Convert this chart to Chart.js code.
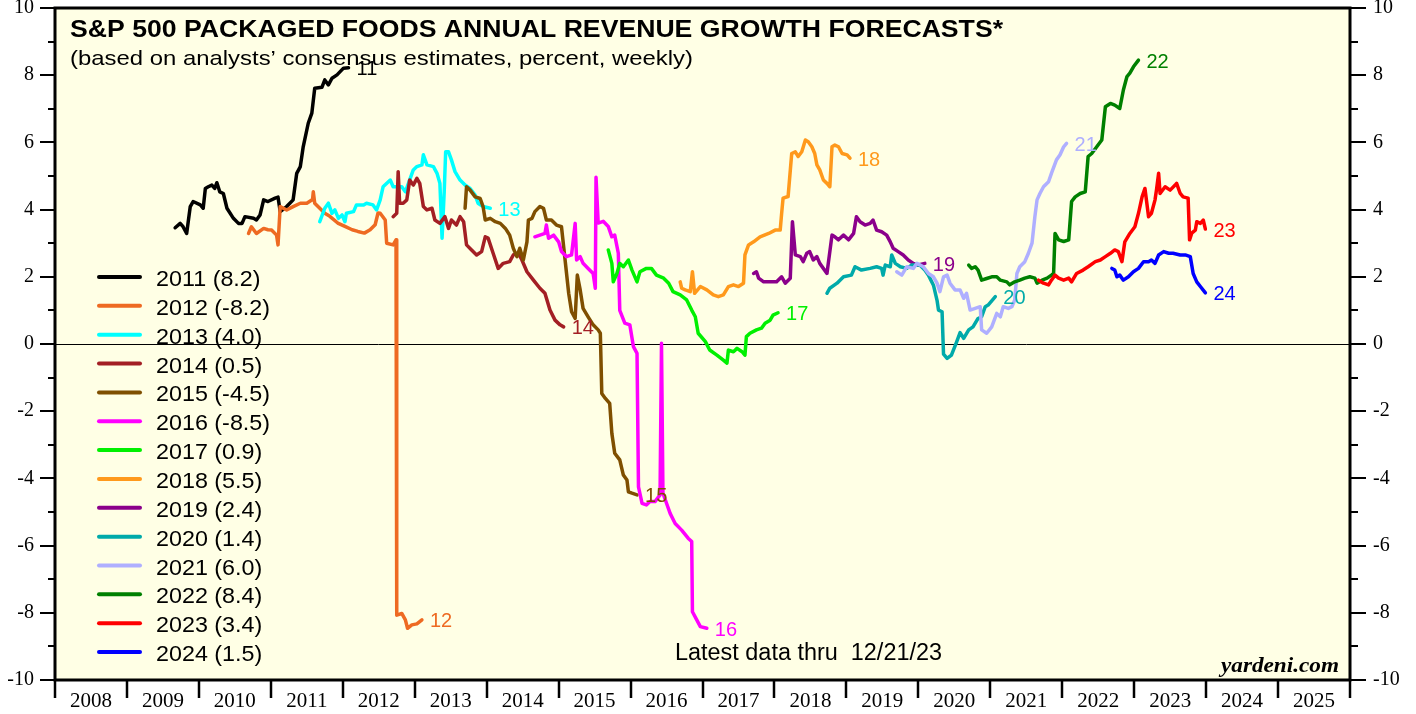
<!DOCTYPE html>
<html><head><meta charset="utf-8">
<script src="https://cdn.jsdelivr.net/npm/chart.js@4.4.1/dist/chart.umd.min.js"></script>
<style>html,body{margin:0;padding:0;background:#fff}#wrap{width:1416px;height:714px;position:relative}</style>
</head><body><div id="wrap"><canvas id="c" width="1416" height="714"></canvas></div>
<script>
// ---------- DATA ----------
const seriesYears = [2011,2012,2013,2014,2015,2016,2017,2018,2019,2020,2021,2022,2023,2024];
const legendValues = ['8.2','-8.2','4.0','0.5','-4.5','-8.5','0.9','5.5','2.4','1.4','6.0','8.4','3.4','1.5'];
const endLabels = ['11','12','13','14','15','16','17','18','19','20','21','22','23','24'];
const xYearLabels = [2008,2009,2010,2011,2012,2013,2014,2015,2016,2017,2018,2019,2020,2021,2022,2023,2024,2025];
const yTickValues = [-10,-9,-8,-7,-6,-5,-4,-3,-2,-1,0,1,2,3,4,5,6,7,8,9,10];

const s2011 = [[2009.67,3.46],[2009.74,3.59],[2009.78,3.49],[2009.83,3.29],[2009.88,4.09],[2009.92,4.24],[2010.02,4.14],[2010.06,4.04],[2010.09,4.63],[2010.13,4.68],[2010.18,4.73],[2010.22,4.63],[2010.25,4.80],[2010.29,4.53],[2010.34,4.48],[2010.39,4.04],[2010.48,3.74],[2010.55,3.59],[2010.60,3.59],[2010.64,3.79],[2010.76,3.74],[2010.80,3.69],[2010.85,3.84],[2010.90,4.29],[2010.96,4.24],[2011.06,4.34],[2011.10,4.37],[2011.13,3.94],[2011.22,4.09],[2011.31,4.29],[2011.36,5.08],[2011.41,5.28],[2011.45,5.87],[2011.52,6.57],[2011.57,6.87],[2011.61,7.61],[2011.71,7.64],[2011.75,7.86],[2011.80,7.71],[2011.85,7.91],[2011.92,8.01],[2012.01,8.21],[2012.08,8.22]];
const s2012 = [[2010.69,3.29],[2010.73,3.49],[2010.80,3.29],[2010.90,3.44],[2010.96,3.40],[2011.01,3.39],[2011.08,3.24],[2011.10,2.95],[2011.13,4.09],[2011.22,3.99],[2011.31,4.09],[2011.41,4.19],[2011.50,4.19],[2011.58,4.30],[2011.59,4.53],[2011.61,4.19],[2011.68,4.04],[2011.75,3.89],[2011.82,3.80],[2011.93,3.60],[2012.03,3.50],[2012.13,3.40],[2012.21,3.35],[2012.30,3.30],[2012.38,3.40],[2012.45,3.55],[2012.49,3.90],[2012.52,3.89],[2012.59,3.69],[2012.61,3.00],[2012.70,2.95],[2012.74,3.10],[2012.75,-8.07],[2012.82,-8.02],[2012.87,-8.21],[2012.90,-8.46],[2012.96,-8.36],[2013.03,-8.33],[2013.10,-8.21]];
const s2013 = [[2011.68,3.64],[2011.75,4.04],[2011.80,4.19],[2011.85,3.89],[2011.89,3.99],[2011.94,3.74],[2011.99,3.84],[2012.03,3.64],[2012.05,3.89],[2012.15,3.94],[2012.19,4.14],[2012.29,4.14],[2012.33,4.19],[2012.42,4.14],[2012.47,3.99],[2012.52,4.29],[2012.56,4.68],[2012.66,4.88],[2012.70,4.68],[2012.75,4.68],[2012.82,4.68],[2012.87,4.53],[2012.98,5.18],[2013.03,5.28],[2013.10,5.33],[2013.12,5.63],[2013.17,5.33],[2013.26,5.28],[2013.31,5.08],[2013.35,4.78],[2013.38,3.15],[2013.41,4.53],[2013.43,5.72],[2013.47,5.72],[2013.51,5.48],[2013.56,5.13],[2013.63,4.88],[2013.70,4.73],[2013.77,4.63],[2013.84,4.43],[2013.88,4.19],[2013.95,4.09],[2014.05,4.04]];
const s2014 = [[2012.70,3.79],[2012.75,3.89],[2012.77,5.13],[2012.79,4.19],[2012.84,4.19],[2012.89,4.29],[2012.93,4.88],[2012.98,4.73],[2013.03,4.93],[2013.07,4.78],[2013.12,4.09],[2013.17,3.99],[2013.24,4.04],[2013.28,3.69],[2013.35,3.59],[2013.42,3.79],[2013.47,3.44],[2013.51,3.69],[2013.58,3.54],[2013.63,3.79],[2013.68,3.64],[2013.72,2.95],[2013.79,2.80],[2013.86,2.65],[2013.93,2.75],[2013.98,3.19],[2014.02,3.15],[2014.09,2.70],[2014.16,2.25],[2014.23,2.40],[2014.32,2.45],[2014.37,2.65],[2014.44,2.70],[2014.49,2.50],[2014.56,2.15],[2014.65,1.90],[2014.74,1.66],[2014.81,1.51],[2014.88,1.01],[2014.95,0.71],[2015.02,0.57],[2015.07,0.51]];
const s2015 = [[2013.70,4.04],[2013.72,4.68],[2013.77,4.58],[2013.84,4.38],[2013.91,4.33],[2013.95,4.09],[2013.98,3.69],[2014.05,3.74],[2014.12,3.64],[2014.19,3.59],[2014.26,3.44],[2014.32,3.24],[2014.37,2.85],[2014.42,2.60],[2014.46,2.85],[2014.51,2.50],[2014.56,3.04],[2014.58,3.69],[2014.63,3.74],[2014.67,3.94],[2014.74,4.09],[2014.79,4.04],[2014.83,3.69],[2014.90,3.69],[2014.97,3.54],[2015.04,3.49],[2015.09,2.50],[2015.14,1.51],[2015.18,0.96],[2015.23,0.76],[2015.26,2.05],[2015.30,1.61],[2015.34,1.06],[2015.41,0.81],[2015.48,0.57],[2015.55,0.42],[2015.58,0.32],[2015.60,-1.47],[2015.65,-1.62],[2015.71,-1.77],[2015.74,-2.66],[2015.78,-3.25],[2015.85,-3.45],[2015.90,-3.90],[2015.95,-4.05],[2015.97,-4.40],[2016.02,-4.44],[2016.09,-4.49]];
const s2016 = [[2014.67,3.19],[2014.74,3.24],[2014.81,3.29],[2014.83,3.54],[2014.86,3.15],[2014.93,3.24],[2015.00,3.04],[2015.04,2.75],[2015.11,2.60],[2015.18,2.65],[2015.23,3.59],[2015.25,2.50],[2015.30,2.60],[2015.34,2.40],[2015.41,2.25],[2015.48,2.10],[2015.51,1.66],[2015.52,4.96],[2015.55,3.60],[2015.62,3.65],[2015.69,3.50],[2015.74,3.19],[2015.78,3.24],[2015.83,2.70],[2015.85,1.00],[2015.92,0.62],[2015.99,0.57],[2016.04,-0.08],[2016.09,-0.28],[2016.11,-4.25],[2016.16,-4.74],[2016.22,-4.79],[2016.27,-4.69],[2016.34,-4.69],[2016.41,-4.49],[2016.43,0.02],[2016.45,-4.44],[2016.50,-4.74],[2016.55,-5.04],[2016.62,-5.34],[2016.71,-5.54],[2016.80,-5.78],[2016.85,-5.88],[2016.86,-7.97],[2016.92,-8.21],[2016.97,-8.41],[2017.06,-8.46]];
const s2017 = [[2015.69,2.80],[2015.74,2.40],[2015.76,1.85],[2015.81,2.10],[2015.85,2.40],[2015.90,2.30],[2015.97,2.50],[2016.02,2.20],[2016.09,1.85],[2016.13,2.15],[2016.22,2.25],[2016.29,2.25],[2016.36,2.05],[2016.46,1.96],[2016.53,1.81],[2016.59,1.56],[2016.69,1.46],[2016.78,1.31],[2016.85,1.01],[2016.90,0.81],[2016.94,0.32],[2017.04,0.07],[2017.10,-0.18],[2017.20,-0.33],[2017.29,-0.48],[2017.34,-0.57],[2017.36,-0.18],[2017.43,-0.23],[2017.48,-0.13],[2017.55,-0.23],[2017.59,-0.33],[2017.61,0.22],[2017.66,0.32],[2017.75,0.42],[2017.82,0.47],[2017.87,0.62],[2017.94,0.71],[2017.98,0.86],[2018.05,0.93]];
const s2018 = [[2016.69,1.85],[2016.71,1.66],[2016.76,1.61],[2016.83,1.56],[2016.86,2.15],[2016.89,1.51],[2016.97,1.71],[2017.06,1.61],[2017.15,1.46],[2017.22,1.41],[2017.29,1.46],[2017.36,1.71],[2017.43,1.76],[2017.50,1.71],[2017.57,1.81],[2017.59,2.65],[2017.64,2.95],[2017.71,3.04],[2017.80,3.19],[2017.92,3.29],[2018.01,3.39],[2018.08,3.39],[2018.10,3.89],[2018.12,4.34],[2018.19,4.39],[2018.24,5.67],[2018.29,5.72],[2018.33,5.58],[2018.38,5.72],[2018.43,6.07],[2018.47,6.02],[2018.52,5.87],[2018.56,5.67],[2018.59,5.33],[2018.63,5.18],[2018.68,4.88],[2018.73,4.78],[2018.77,4.68],[2018.80,5.87],[2018.84,5.92],[2018.89,5.87],[2018.94,5.67],[2019.01,5.63],[2019.05,5.53]];
const s2019 = [[2017.71,2.10],[2017.75,2.15],[2017.78,1.96],[2017.85,1.85],[2017.94,1.85],[2018.03,1.85],[2018.10,2.00],[2018.15,1.81],[2018.22,1.96],[2018.25,3.64],[2018.29,2.65],[2018.36,2.60],[2018.40,2.45],[2018.45,2.70],[2018.49,2.75],[2018.54,2.50],[2018.59,2.60],[2018.63,2.40],[2018.73,2.10],[2018.80,3.24],[2018.84,3.19],[2018.89,3.10],[2018.96,3.24],[2019.03,3.10],[2019.10,3.29],[2019.14,3.79],[2019.19,3.64],[2019.26,3.54],[2019.33,3.59],[2019.37,3.69],[2019.42,3.39],[2019.49,3.34],[2019.56,3.24],[2019.61,3.04],[2019.65,2.85],[2019.72,2.75],[2019.79,2.65],[2019.86,2.50],[2019.93,2.40],[2020.00,2.35],[2020.09,2.40]];
const s2020 = [[2018.73,1.51],[2018.77,1.66],[2018.87,1.81],[2018.96,2.00],[2019.07,2.05],[2019.12,2.30],[2019.21,2.20],[2019.33,2.25],[2019.42,2.30],[2019.49,2.25],[2019.51,2.05],[2019.54,2.35],[2019.61,2.30],[2019.63,2.65],[2019.68,2.40],[2019.75,2.30],[2019.84,2.25],[2019.91,2.35],[2020.02,2.35],[2020.09,2.20],[2020.14,2.05],[2020.21,1.75],[2020.26,1.30],[2020.28,1.01],[2020.33,0.96],[2020.35,-0.30],[2020.40,-0.43],[2020.46,-0.33],[2020.53,0.05],[2020.58,0.34],[2020.63,0.17],[2020.70,0.42],[2020.76,0.51],[2020.83,0.76],[2020.88,0.81],[2020.93,1.11],[2020.97,1.16],[2021.07,1.41]];
const s2021 = [[2019.70,2.15],[2019.77,2.05],[2019.84,2.30],[2019.93,2.25],[2019.98,2.40],[2020.07,2.30],[2020.14,2.10],[2020.21,2.00],[2020.26,1.81],[2020.30,1.56],[2020.35,2.00],[2020.40,2.05],[2020.44,1.81],[2020.51,1.61],[2020.58,1.61],[2020.63,1.36],[2020.67,1.51],[2020.72,1.01],[2020.79,1.06],[2020.86,1.11],[2020.88,0.42],[2020.95,0.32],[2021.02,0.51],[2021.09,0.91],[2021.14,0.81],[2021.18,1.11],[2021.25,1.06],[2021.30,1.11],[2021.34,1.31],[2021.37,2.10],[2021.41,2.30],[2021.48,2.45],[2021.53,2.70],[2021.58,3.00],[2021.62,3.79],[2021.65,4.29],[2021.69,4.48],[2021.74,4.68],[2021.81,4.83],[2021.85,5.08],[2021.92,5.48],[2021.97,5.63],[2022.02,5.87],[2022.06,5.97]];
const s2022 = [[2020.70,2.35],[2020.74,2.25],[2020.79,2.30],[2020.83,2.20],[2020.88,1.90],[2020.95,1.95],[2021.02,2.00],[2021.09,2.00],[2021.14,1.90],[2021.23,1.85],[2021.27,1.76],[2021.34,1.85],[2021.41,1.90],[2021.48,1.96],[2021.55,2.00],[2021.62,1.96],[2021.65,1.81],[2021.72,1.90],[2021.79,1.96],[2021.85,2.05],[2021.88,2.10],[2021.90,3.29],[2021.95,3.10],[2022.02,3.05],[2022.09,3.10],[2022.13,4.24],[2022.18,4.38],[2022.25,4.48],[2022.32,4.53],[2022.36,5.58],[2022.41,5.67],[2022.48,5.87],[2022.55,6.07],[2022.60,7.06],[2022.67,7.16],[2022.73,7.11],[2022.80,7.01],[2022.85,7.56],[2022.90,7.96],[2022.94,8.06],[2022.99,8.25],[2023.06,8.45]];
const s2023 = [[2021.67,1.90],[2021.74,1.81],[2021.81,1.76],[2021.85,1.90],[2021.90,2.05],[2021.95,1.96],[2022.02,1.90],[2022.09,1.96],[2022.13,1.85],[2022.20,2.10],[2022.29,2.20],[2022.36,2.30],[2022.46,2.45],[2022.53,2.50],[2022.60,2.60],[2022.67,2.70],[2022.73,2.80],[2022.78,2.75],[2022.83,2.45],[2022.87,3.04],[2022.94,3.29],[2023.01,3.49],[2023.06,3.89],[2023.11,4.38],[2023.15,4.63],[2023.20,3.79],[2023.24,3.89],[2023.29,4.29],[2023.31,4.58],[2023.34,5.08],[2023.36,4.48],[2023.43,4.68],[2023.50,4.58],[2023.57,4.73],[2023.59,4.78],[2023.64,4.48],[2023.68,4.38],[2023.75,4.34],[2023.77,3.10],[2023.80,3.30],[2023.85,3.39],[2023.87,3.64],[2023.92,3.59],[2023.96,3.69],[2023.99,3.42]];
const s2024 = [[2022.69,2.25],[2022.73,2.20],[2022.76,2.00],[2022.80,2.05],[2022.85,1.90],[2022.92,2.00],[2022.99,2.15],[2023.06,2.25],[2023.13,2.45],[2023.20,2.45],[2023.24,2.50],[2023.29,2.40],[2023.34,2.65],[2023.41,2.75],[2023.48,2.70],[2023.54,2.70],[2023.64,2.65],[2023.71,2.65],[2023.78,2.60],[2023.82,2.10],[2023.87,1.85],[2023.92,1.71],[2023.99,1.52]];

const allSeries = [s2011,s2012,s2013,s2014,s2015,s2016,s2017,s2018,s2019,s2020,s2021,s2022,s2023,s2024];
const colors = ['#000000','#EE6A22','#00FFFF','#A31F24','#7F4F00','#FF00FF','#00F000','#FF991C','#8B008B','#00AAAA','#AFAFFF','#008000','#FF0000','#0000FF'];

const TITLE = 'S&P 500 PACKAGED FOODS ANNUAL REVENUE GROWTH FORECASTS*';
const SUBTITLE = '(based on analysts\u2019 consensus estimates, percent, weekly)';
const NOTE = 'Latest data thru  12/21/23';
const SOURCE = 'yardeni.com';

// ---------- CHART ----------
const BG = '#FFFFE5';
const SANS = '"Liberation Sans", Arial, sans-serif';
const SERIF = '"Liberation Serif", "Times New Roman", serif';

function drawText(ctx, s, x, y, font, color, align, baseline, targetW, sx) {
  ctx.save();
  ctx.font = font; ctx.fillStyle = color; ctx.textBaseline = baseline; ctx.textAlign = align;
  const w = ctx.measureText(s).width;
  const k = targetW ? targetW / w : (sx || 1);
  ctx.translate(x, y); ctx.scale(k, 1); ctx.fillText(s, 0, 0);
  ctx.restore();
}

const decor = {
  id: 'decor',
  beforeDraw(chart) {
    const {ctx, chartArea: a} = chart;
    ctx.save();
    ctx.fillStyle = '#fff'; ctx.fillRect(0, 0, chart.width, chart.height);
    ctx.fillStyle = BG; ctx.fillRect(a.left, a.top, a.right - a.left, a.bottom - a.top);
    ctx.restore();
  },
  beforeDatasetsDraw(chart) {
    const {ctx, chartArea: a, scales: {y}} = chart;
    ctx.save();
    chart.data.datasets.forEach((ds, i) => {
      const ly = 277 + i * 28.85;
      ctx.strokeStyle = ds.borderColor; ctx.lineWidth = 4; ctx.lineCap = 'round';
      ctx.beginPath(); ctx.moveTo(99, ly); ctx.lineTo(140, ly); ctx.stroke();
      drawText(ctx, seriesYears[i] + ' (' + legendValues[i] + ')', 156, ly + 9, '22px ' + SANS, '#000', 'left', 'alphabetic', null, 1.06);
    });
    const y0 = Math.round(y.getPixelForValue(0)) + 0.5;
    ctx.strokeStyle = '#000'; ctx.lineWidth = 1;
    ctx.beginPath(); ctx.moveTo(a.left, y0); ctx.lineTo(a.right, y0); ctx.stroke();
    ctx.restore();
  },
  afterDatasetsDraw(chart) {
    const {ctx, chartArea: a, scales: {x, y}} = chart;
    ctx.save();
    chart.data.datasets.forEach((ds, i) => {
      const last = ds.data[ds.data.length - 1];
      const px = x.getPixelForValue(last.x), py = y.getPixelForValue(last.y);
      drawText(ctx, endLabels[i], px + 8, py + 2, '20px ' + SANS, ds.borderColor, 'left', 'middle');
    });
    drawText(ctx, TITLE, 70, 37, 'bold 24px ' + SANS, '#000', 'left', 'alphabetic', 933);
    drawText(ctx, SUBTITLE, 70, 65, '21px ' + SANS, '#000', 'left', 'alphabetic', 623);
    drawText(ctx, NOTE, 675, 660, '23px ' + SANS, '#000', 'left', 'alphabetic', 267);
    drawText(ctx, SOURCE, 1339, 672, 'bold italic 20px ' + SERIF, '#000', 'right', 'alphabetic', 118);
    ctx.strokeStyle = '#000'; ctx.lineWidth = 3;
    ctx.strokeRect(a.left, a.top, a.right - a.left, a.bottom - a.top);
    ctx.lineWidth = 2;
    yTickValues.forEach(v => {
      const py = Math.round(y.getPixelForValue(v));
      const major = v % 2 === 0;
      ctx.beginPath();
      ctx.moveTo(a.left - (major ? 15 : 7), py); ctx.lineTo(a.left, py);
      ctx.moveTo(a.right, py); ctx.lineTo(a.right + (major ? 16 : 8), py);
      ctx.stroke();
    });
    ctx.lineWidth = 2.5;
    for (let yr = xYearLabels[0]; yr <= xYearLabels[xYearLabels.length - 1] + 1; yr++) {
      const px = Math.round(x.getPixelForValue(yr));
      ctx.beginPath(); ctx.moveTo(px, a.bottom); ctx.lineTo(px, a.bottom + 18); ctx.stroke();
    }
    ctx.restore();
  }
};

const datasets = allSeries.map((s, i) => ({
  label: String(seriesYears[i]),
  data: s.map(p => ({x: p[0], y: p[1]})),
  borderColor: colors[i],
  backgroundColor: colors[i],
  borderWidth: 3.5,
  pointRadius: 0,
  tension: 0,
  fill: false,
  borderJoinStyle: 'round',
  borderCapStyle: 'round',
  order: allSeries.length - i
}));

function fixY(w) { return function (s) { s.width = w; s.paddingTop = 0; s.paddingBottom = 0; }; }

new Chart(document.getElementById('c'), {
  type: 'line',
  data: {datasets},
  options: {
    responsive: false,
    animation: false,
    events: [],
    layout: {padding: {top: 8, left: 0, right: 0, bottom: 0}},
    plugins: {legend: {display: false}, tooltip: {enabled: false}, title: {display: false}},
    scales: {
      x: {
        type: 'linear', position: 'bottom',
        min: xYearLabels[0], max: xYearLabels[xYearLabels.length - 1] + 1,
        afterBuildTicks: s => { s.ticks = xYearLabels.map(v => ({value: v + 0.5})); },
        afterFit: s => { s.height = 34; s.paddingLeft = 0; s.paddingRight = 0; },
        grid: {display: false, drawTicks: false},
        border: {display: false},
        ticks: {
          autoSkip: false, maxRotation: 0, padding: 9,
          font: {family: SERIF, size: 21}, color: '#000',
          callback: v => String(Math.floor(v))
        }
      },
      y: {
        type: 'linear', position: 'left', min: -10, max: 10,
        afterFit: fixY(55),
        grid: {display: false, drawTicks: false},
        border: {display: false},
        ticks: {stepSize: 2, padding: 21, font: {family: SERIF, size: 20}, color: '#000', callback: v => String(v)}
      },
      y2: {
        type: 'linear', position: 'right', min: -10, max: 10,
        afterFit: fixY(66),
        grid: {display: false, drawTicks: false},
        border: {display: false},
        ticks: {stepSize: 2, padding: 23, font: {family: SERIF, size: 20}, color: '#000', callback: v => String(v)}
      }
    }
  },
  plugins: [decor]
});
</script>
</body></html>
